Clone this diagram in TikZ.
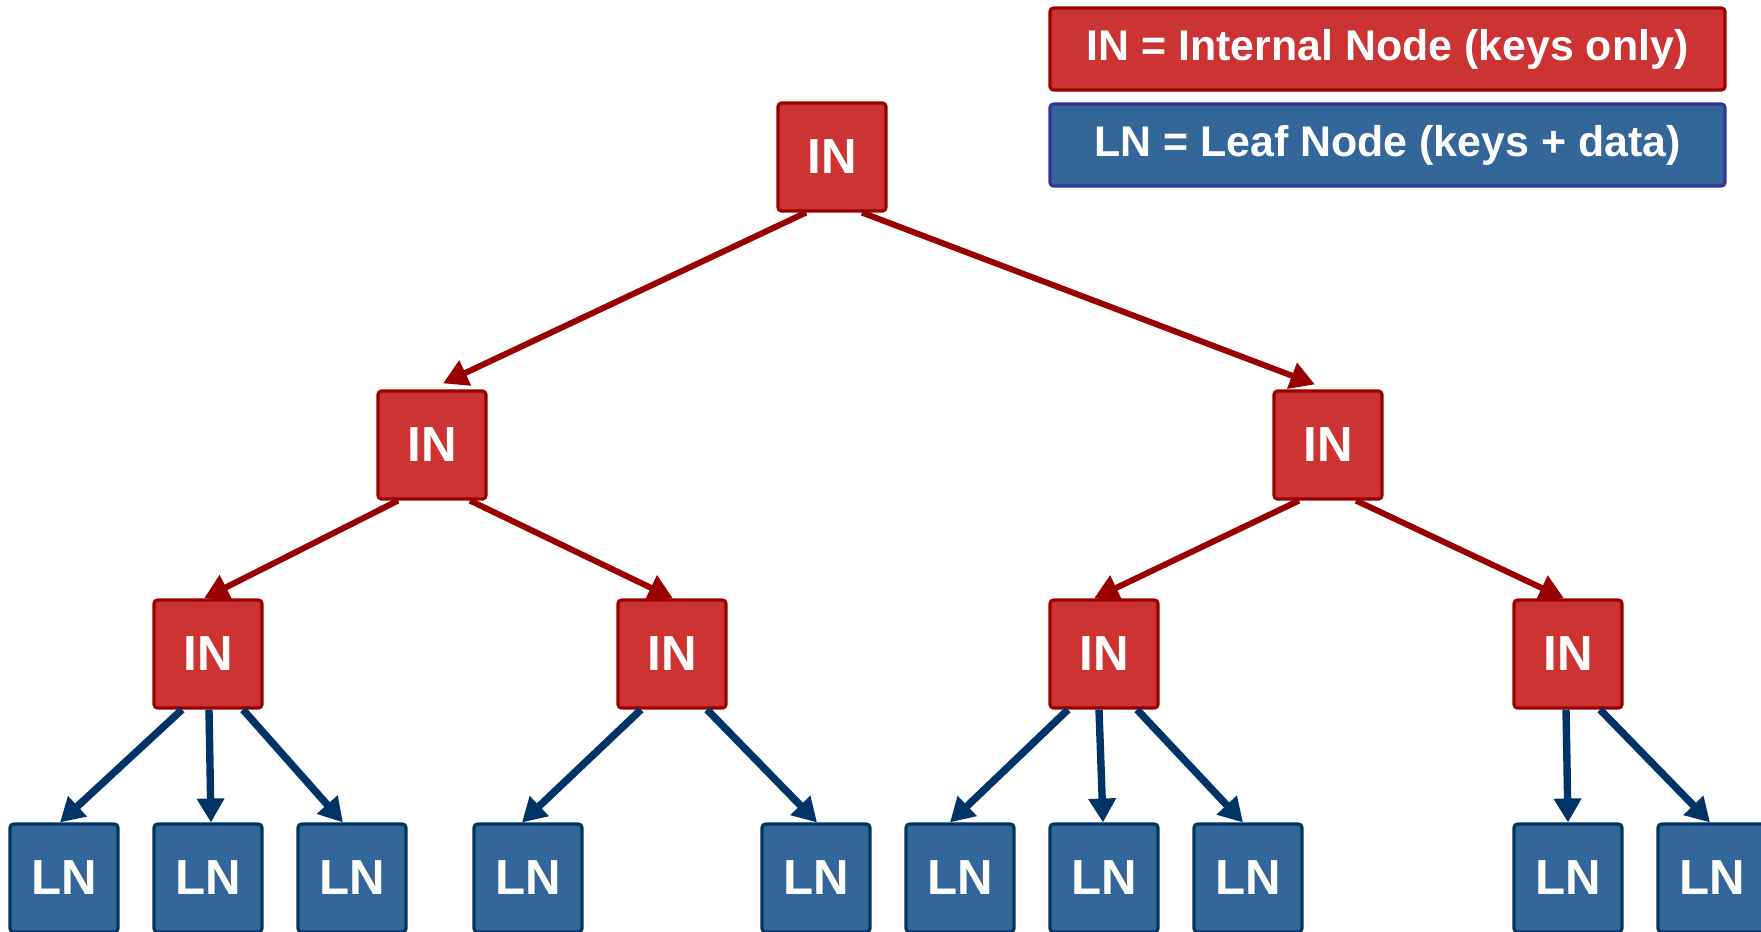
\documentclass[tikz,border=0pt]{standalone}
\usepackage{fontspec}
\setmainfont{Liberation Sans}
\usetikzlibrary{arrows.meta}
\definecolor{inred}{HTML}{CC3333}
\definecolor{inborder}{HTML}{990000}
\definecolor{lnblue}{HTML}{336699}
\definecolor{lnborder}{HTML}{003366}
\definecolor{keyborder}{HTML}{333399}
\begin{document}
\begin{tikzpicture}[
    innode/.style={rectangle,rounded corners=1pt,fill=inred,draw=inborder,line width=0.9pt,minimum size=1.08cm,inner sep=0pt,text=white,font=\fontsize{14}{16}\selectfont\bfseries},
    lnnode/.style={innode,fill=lnblue,draw=lnborder},
    keybox/.style={rectangle,rounded corners=1pt,line width=0.9pt,minimum width=6.75cm,minimum height=0.82cm,inner sep=0pt,text=white,font=\fontsize{12.2}{14}\selectfont\bfseries},
    inarrow/.style={draw=inborder,line width=1.7pt,-{Triangle[length=7pt,width=7.5pt]}},
    lnarrow/.style={draw=lnborder,line width=2.1pt,-{Triangle[length=6.8pt,width=7.5pt]}}]
    \useasboundingbox (0,0) rectangle (17.61,-9.31);
    % legend
    \node[keybox,fill=inred,draw=inborder] (keyin) at (13.875,-0.49) {IN = Internal Node (keys only)};
    \node[keybox,fill=lnblue,draw=keyborder] (keyln) at (13.875,-1.45) {LN = Leaf Node (keys + data)};
    % internal nodes
    \node[innode] (root) at (8.32,-1.57) {IN};
    \node[innode] (inl) at (4.32,-4.45) {IN};
    \node[innode] (inr) at (13.28,-4.45) {IN};
    \node[innode] (ina) at (2.08,-6.54) {IN};
    \node[innode] (inb) at (6.72,-6.54) {IN};
    \node[innode] (inc) at (11.04,-6.54) {IN};
    \node[innode] (ind) at (15.68,-6.54) {IN};
    % leaf nodes
    \foreach \n/\x in {1/0.64,2/2.08,3/3.52,4/5.28,5/8.16,6/9.60,7/11.04,8/12.48,9/15.68,10/17.12}
        \node[lnnode] (ln\n) at (\x,-8.78) {LN};
    % connectors
    \draw[inarrow] ([xshift=-0.26cm]root.south) -- ([xshift=0.11cm,yshift=0.06cm]inl.north);
    \draw[inarrow] ([xshift=0.30cm]root.south) -- ([xshift=-0.13cm,yshift=0.05cm]inr.north);
    \foreach \a/\b/\s/\e in {inl/ina/-0.34/-0.04,inl/inb/0.38/0.01,inr/inc/-0.29/-0.10,inr/ind/0.28/-0.04}
        \draw[inarrow] ([xshift=\s cm]\a.south) -- ([xshift=\e cm]\b.north);
    \foreach \a/\b/\s/\e in {ina/ln1/-0.26/-0.04,ina/ln2/0.01/0.03,ina/ln3/0.35/-0.09,inb/ln4/-0.31/-0.06,inb/ln5/0.35/0.01,inc/ln6/-0.36/-0.10,inc/ln7/-0.05/-0.01,inc/ln8/0.33/-0.05,ind/ln9/-0.02/0,ind/ln10/0.32/-0.02}
        \draw[lnarrow] ([xshift=\s cm]\a.south) -- ([xshift=\e cm]\b.north);
\end{tikzpicture}
\end{document}
